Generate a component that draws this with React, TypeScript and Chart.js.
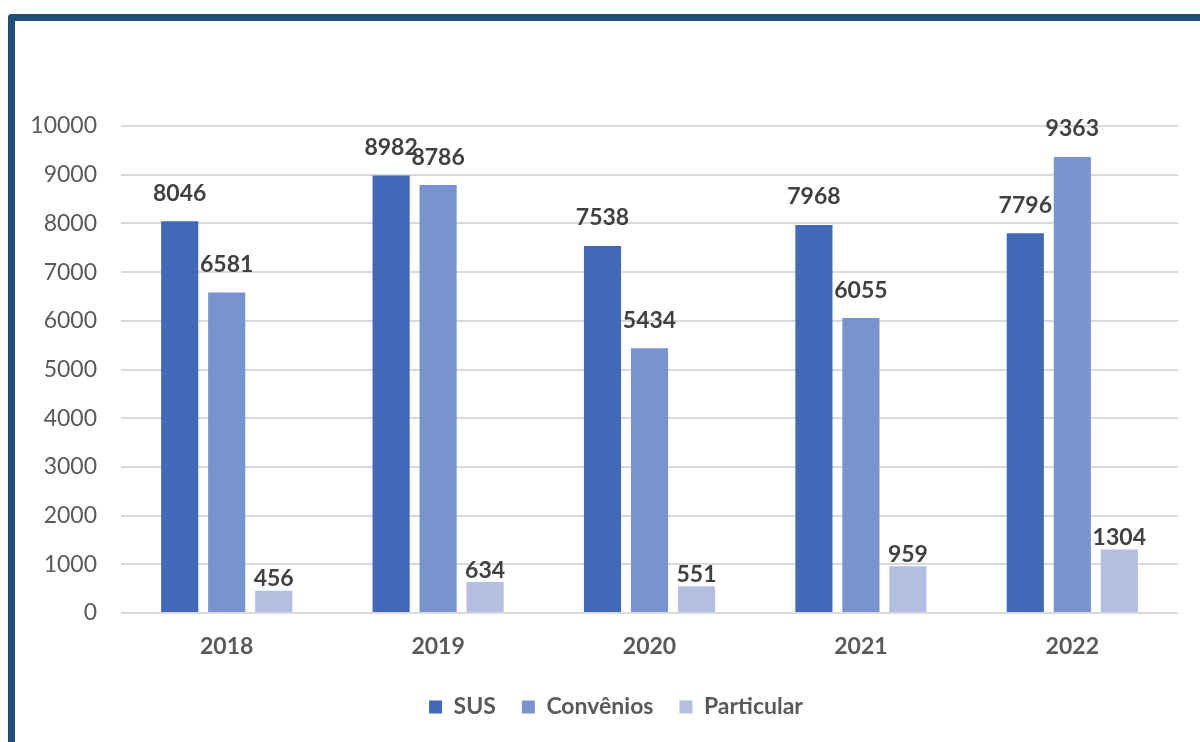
import React, { useEffect, useRef } from "react";
import { Chart, registerables } from "chart.js";

Chart.register(...registerables);

const categories = ["2018", "2019", "2020", "2021", "2022"];
const seriesNames = ["SUS", "Convênios", "Particular"];
const susValues = [8046, 8982, 7538, 7968, 7796];
const conveniosValues = [6581, 8786, 5434, 6055, 9363];
const particularValues = [456, 634, 551, 959, 1304];
const yTickMax = 10000;
const yTickStep = 1000;

const seriesColors = ["#4069B8", "#7993D0", "#B2BFE0"];
const labelOffsets = [28, 28, 12];
const legendCenterX = 616;
const FONT = "Lato, 'Open Sans', sans-serif";

const valueLabelPlugin = {
  id: "valueLabels",
  afterDatasetsDraw(chart: any) {
    const ctx = chart.ctx;
    ctx.save();
    ctx.font = `700 23px ${FONT}`;
    ctx.fillStyle = "#404040";
    ctx.textAlign = "center";
    ctx.textBaseline = "middle";
    chart.data.datasets.forEach((ds: any, di: number) => {
      const meta = chart.getDatasetMeta(di);
      meta.data.forEach((bar: any, i: number) => {
        const v = ds.data[i];
        ctx.fillText(String(v), bar.x, bar.y - labelOffsets[di]);
      });
    });
    ctx.restore();
  },
};

const legendShiftPlugin = {
  id: "legendShift",
  afterLayout(chart: any) {
    const lg = chart.legend;
    if (!lg) return;
    const shift = legendCenterX - (lg.left + lg.right) / 2;
    lg.left += shift;
    lg.right += shift;
  },
};

export default function App() {
  const ref = useRef<HTMLCanvasElement | null>(null);

  useEffect(() => {
    if (!ref.current) return;
    const chart = new Chart(ref.current, {
      type: "bar",
      data: {
        labels: categories,
        datasets: [susValues, conveniosValues, particularValues].map((d, i) => ({
          label: seriesNames[i],
          data: d,
          backgroundColor: seriesColors[i],
          borderWidth: 0,
          categoryPercentage: 0.667,
          barPercentage: 0.79,
        })),
      },
      options: {
        responsive: false,
        animation: false,
        devicePixelRatio: 1,
        layout: { padding: { left: 20, right: 22, top: 126, bottom: 13.5 } },
        plugins: {
          legend: {
            position: "bottom",
            labels: {
              boxWidth: 13,
              boxHeight: 13,
              padding: 26,
              color: "#595959",
              font: { family: FONT, size: 23, weight: "bold" },
            },
          },
          tooltip: { enabled: false },
        },
        scales: {
          x: {
            grid: { display: false, drawTicks: false },
            border: { display: false },
            ticks: {
              padding: 20,
              color: "#595959",
              font: { family: FONT, size: 23, weight: "bold" },
            },
            afterFit: (s: any) => {
              s.height = 56.5;
            },
          },
          y: {
            min: 0,
            max: yTickMax,
            grid: { color: "#D9D9D9", lineWidth: 2, drawTicks: false },
            border: { display: false },
            ticks: {
              stepSize: yTickStep,
              padding: 24,
              color: "#595959",
              font: { family: FONT, size: 23 },
              callback: (v: any) => String(v),
            },
            afterFit: (s: any) => {
              s.width = 101;
            },
          },
        },
      },
      plugins: [valueLabelPlugin, legendShiftPlugin],
    });
    return () => chart.destroy();
  }, []);

  return (
    <div
      style={{
        position: "fixed",
        left: 0,
        top: 0,
        width: 1200,
        height: 742,
        overflow: "hidden",
        background: "#fff",
      }}
    >
      <div
        style={{
          position: "absolute",
          left: 8,
          top: 14,
          width: 1300,
          height: 900,
          borderTop: "7px solid #1F4E79",
          borderLeft: "7px solid #1F4E79",
          borderTopLeftRadius: 4,
          boxSizing: "border-box",
        }}
      />
      <canvas
        ref={ref}
        width={1200}
        height={742}
        style={{ position: "absolute", left: 0, top: 0, width: 1200, height: 742 }}
      />
    </div>
  );
}
